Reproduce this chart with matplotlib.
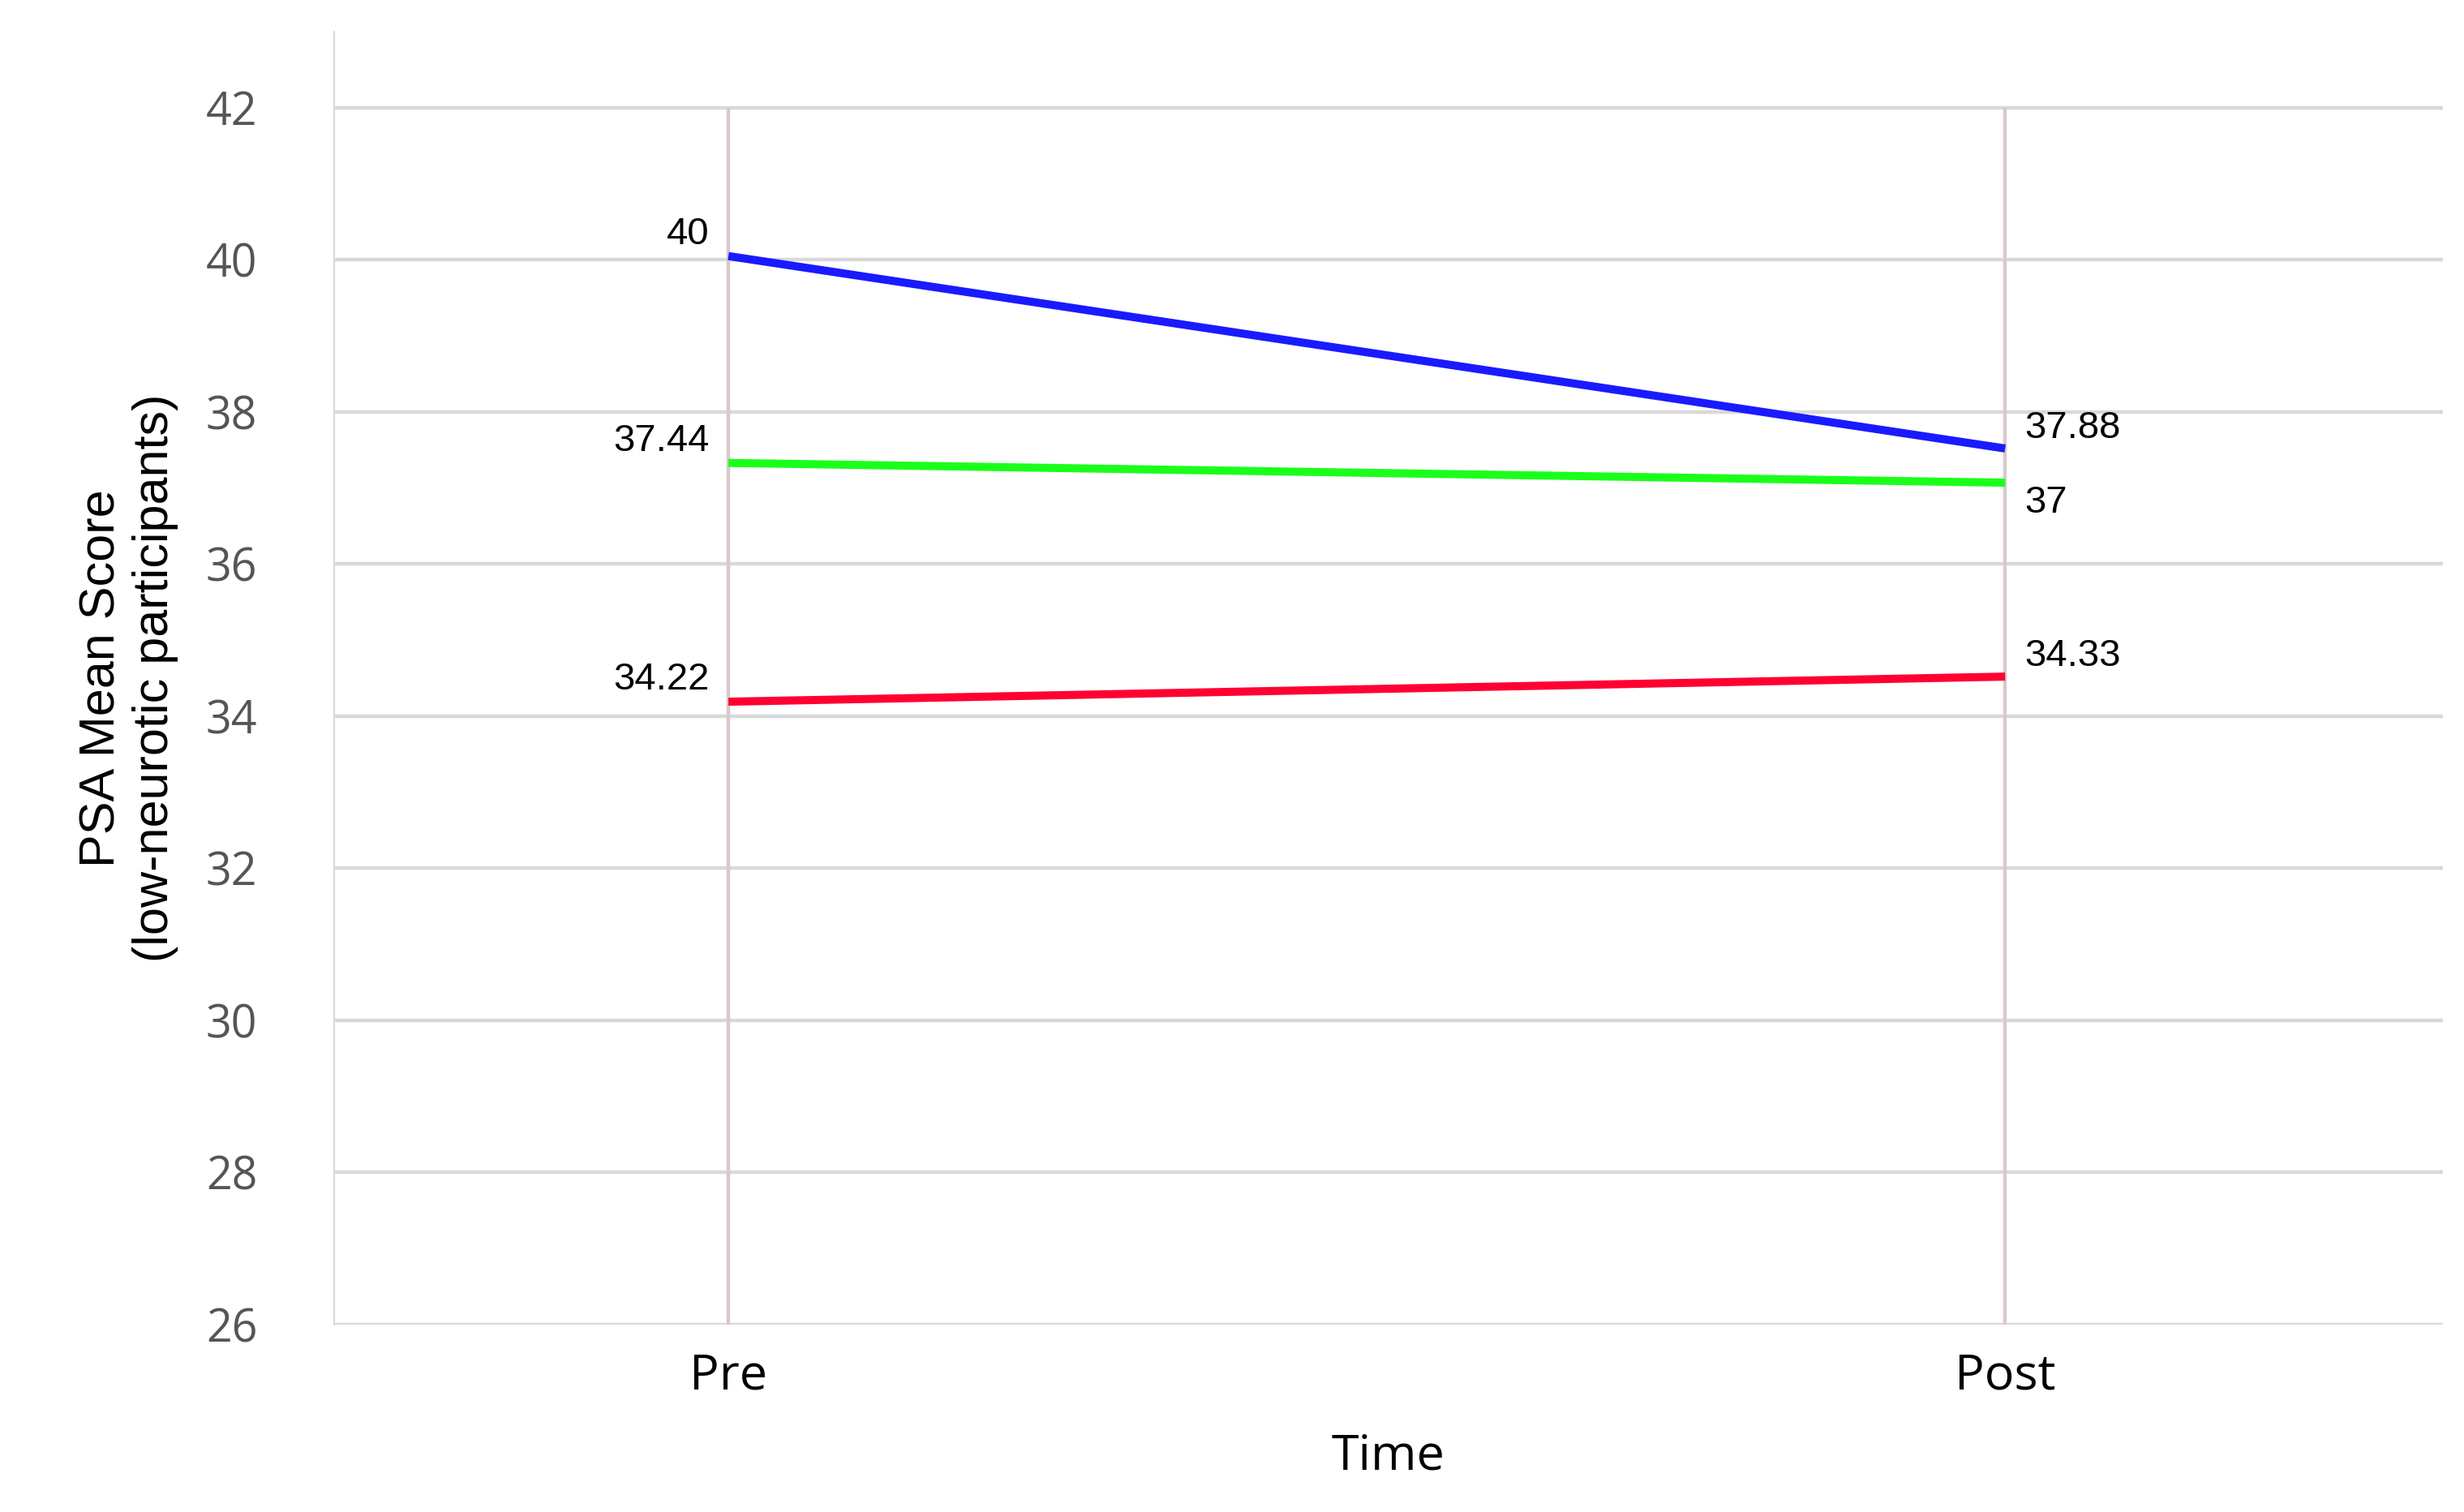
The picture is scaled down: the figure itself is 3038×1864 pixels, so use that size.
import matplotlib
matplotlib.use("Agg")
import matplotlib.pyplot as plt

times = ["Pre", "Post"]
blue_vals = [40.05, 37.52]
green_vals = [37.33, 37.07]
red_vals = [34.19, 34.52]
blue_labels = ["40", "37.88"]
green_labels = ["37.44", "37"]
red_labels = ["34.22", "34.33"]
yticks = [26, 28, 30, 32, 34, 36, 38, 40, 42]

plt.rcParams["font.family"] = ["Liberation Sans", "DejaVu Sans"]
fig = plt.figure(figsize=(15.19, 9.32), dpi=200)
ax = fig.add_axes([0.1355, 0.124, 0.856, 0.855])
x = [0, 1]
ax.set_xlim(-0.309, 1.343)
ax.set_ylim(26, 43)
for y in yticks:
    ax.axhline(y, color="#d9d9d9", lw=1.6, zorder=0)
ax.vlines(x, 26, 42, color="#d8c8cc", lw=1.6, zorder=0)
for vals, c, labs in [(blue_vals, "#1a1aff", blue_labels),
                      (green_vals, "#1aff1a", green_labels),
                      (red_vals, "#ff0033", red_labels)]:
    ax.plot(x, vals, color=c, lw=3.6, solid_capstyle="butt", zorder=3)
    ax.text(-0.015, vals[0] + 0.05, labs[0], ha="right", va="bottom", fontsize=17)
    ax.text(1.015, vals[1] + 0.03 if c != "#1aff1a" else vals[1] - 0.03,
            labs[1], ha="left", va="bottom" if c != "#1aff1a" else "top", fontsize=17)
ax.set_yticks(yticks)
ax.set_yticklabels([str(v) for v in yticks], color="#555555", fontsize=20,
                   family=["Open Sans", "DejaVu Sans"])
ax.set_xticks(x)
ax.set_xticklabels(times, fontsize=22, family=["Open Sans", "DejaVu Sans"])
ax.tick_params(length=0, pad=12)
ax.tick_params(axis="y", pad=34)
for s in ["top", "right"]:
    ax.spines[s].set_visible(False)
ax.spines["left"].set_color("#d9d9d9")
ax.spines["bottom"].set_visible(False)
ax.set_xlabel("Time", fontsize=22, labelpad=14, family=["Open Sans", "DejaVu Sans"])
ax.set_ylabel("PSA Mean Score\n(low-neurotic participants)", fontsize=22, labelpad=12)
fig.savefig("out.png", dpi=200)
